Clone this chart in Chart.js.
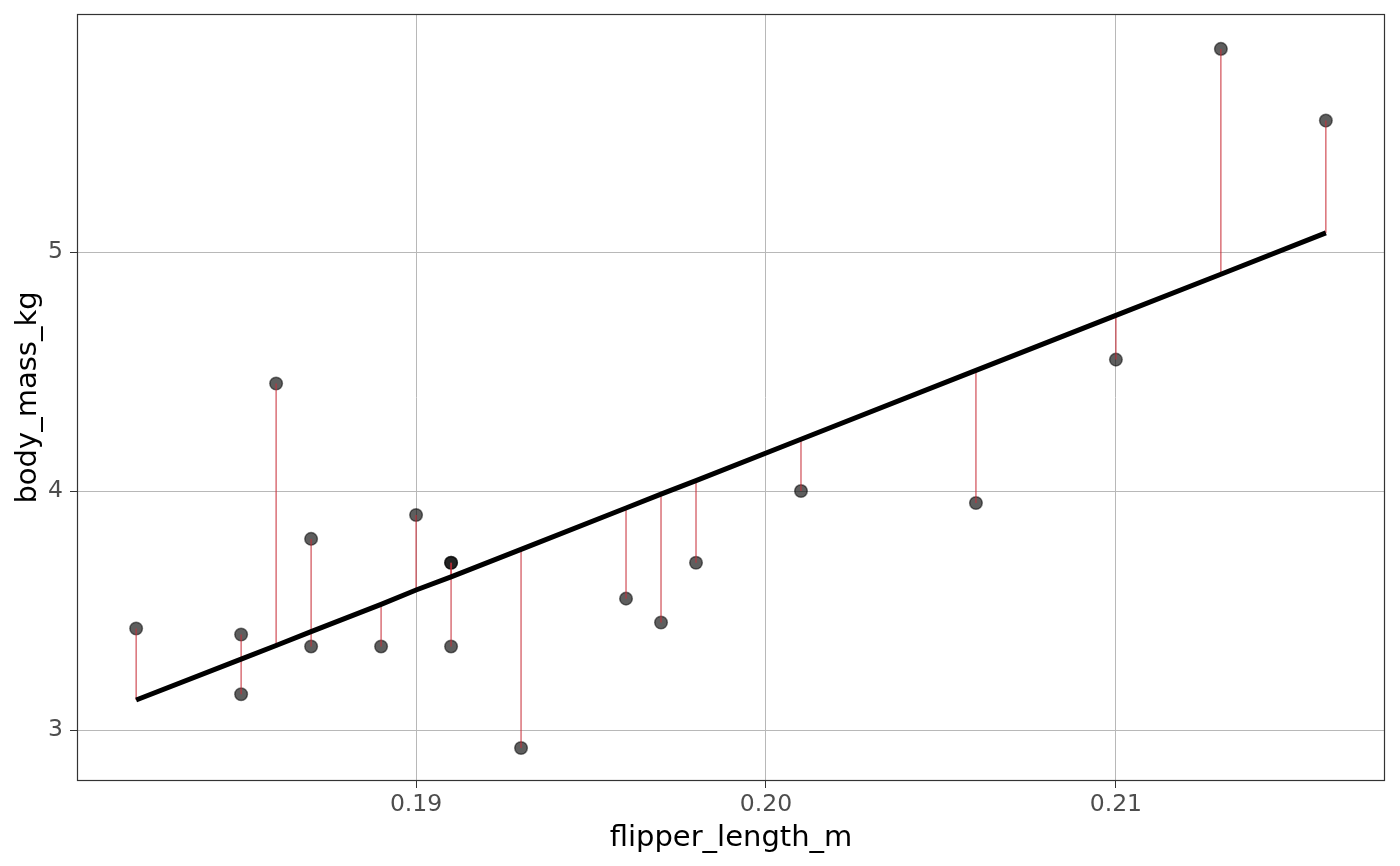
<!DOCTYPE html>
<html>
<head>
<meta charset="utf-8">
<script src="https://cdn.jsdelivr.net/npm/chart.js@4.4.1/dist/chart.umd.min.js"></script>
<style>
  html, body { margin: 0; padding: 0; background: #fff; }
  #wrap { width: 1400px; height: 866px; }
</style>
</head>
<body>
<div id="wrap"><canvas id="chart" width="1400" height="866"></canvas></div>
<script>
// values
var flipperLength = [0.182, 0.185, 0.185, 0.186, 0.187, 0.187, 0.189, 0.190, 0.191, 0.191,
                     0.191, 0.193, 0.196, 0.197, 0.198, 0.201, 0.206, 0.210, 0.213, 0.216];
var bodyMass      = [3.425, 3.40, 3.15, 4.45, 3.80, 3.35, 3.35, 3.90, 3.70, 3.70,
                     3.35, 2.925, 3.55, 3.45, 3.70, 4.00, 3.95, 4.55, 5.85, 5.55];
// fitted values (where each red segment meets the black line)
var fittedMass    = [3.126, 3.297, 3.297, 3.354, 3.412, 3.412, 3.526, 3.586, 3.641, 3.641,
                     3.641, 3.756, 3.929, 3.987, 4.044, 4.217, 4.505, 4.735, 4.907, 5.080];

var xTicks = [0.19, 0.20, 0.21];
var yTicks = [3, 4, 5];
var xRange = [0.18031, 0.21769];
var yRange = [2.787, 5.996];

var pointData = flipperLength.map(function(x, i) { return {x: x, y: bodyMass[i]}; });
var fitData = flipperLength.map(function(x, i) { return {x: x, y: fittedMass[i]}; });

var datasets = [];

// regression line, on top
datasets.push({
  data: fitData,
  showLine: true,
  borderColor: "#000000",
  borderWidth: 5,
  borderCapStyle: "butt",
  pointRadius: 0,
  order: 0
});

// residual segments
flipperLength.forEach(function(x, i) {
  datasets.push({
    data: [{x: x, y: bodyMass[i]}, {x: x, y: fittedMass[i]}],
    showLine: true,
    borderColor: "rgba(200,45,55,0.85)",
    borderWidth: 1.2,
    pointRadius: 0,
    order: 1
  });
});

// observations
datasets.push({
  data: pointData,
  pointRadius: 6.3,
  pointBackgroundColor: "rgba(0,0,0,0.63)",
  pointBorderColor: "rgba(0,0,0,0.5)",
  pointBorderWidth: 1.5,
  order: 2
});

var panelBorder = {
  id: "panelBorder",
  afterDatasetsDraw: function(chart) {
    var a = chart.chartArea;
    var ctx = chart.ctx;
    ctx.save();
    ctx.strokeStyle = "#333333";
    ctx.lineWidth = 1.2;
    ctx.strokeRect(a.left + 0.5, a.top + 0.5, a.right - a.left - 1, a.bottom - a.top - 1);
    ctx.restore();
  }
};

var tickFont = {family: "DejaVu Sans", size: 23.5};
var titleFont = {family: "DejaVu Sans", size: 29};

new Chart(document.getElementById("chart"), {
  type: "scatter",
  data: {datasets: datasets},
  plugins: [panelBorder],
  options: {
    responsive: false,
    devicePixelRatio: 1,
    animation: false,
    layout: {padding: {top: 14, right: 15, bottom: 0, left: 0}},
    plugins: {legend: {display: false}, tooltip: {enabled: false}},
    scales: {
      x: {
        type: "linear",
        min: xRange[0],
        max: xRange[1],
        afterBuildTicks: function(s) { s.ticks = xTicks.map(function(v) { return {value: v}; }); },
        afterFit: function(s) { s.height = 85; s.paddingLeft = 0; s.paddingRight = 0; },
        grid: {color: "#b8b8b8", lineWidth: 1, tickColor: "#333333", tickLength: 7, drawTicks: true},
        border: {display: false},
        ticks: {
          font: tickFont, color: "#4d4d4d", padding: 3, maxRotation: 0, autoSkip: false,
          callback: function(v) { return v.toFixed(2); }
        },
        title: {display: true, text: "flipper_length_m", color: "#000000", font: titleFont,
                padding: {top: 0, bottom: 10}}
      },
      y: {
        type: "linear",
        min: yRange[0],
        max: yRange[1],
        afterBuildTicks: function(s) { s.ticks = yTicks.map(function(v) { return {value: v}; }); },
        afterFit: function(s) { s.width = 77; s.paddingTop = 0; s.paddingBottom = 0; },
        grid: {color: "#b8b8b8", lineWidth: 1, tickColor: "#333333", tickLength: 7, drawTicks: true},
        border: {display: false},
        ticks: {
          font: tickFont, color: "#4d4d4d", padding: 7,
          callback: function(v) { return String(v); }
        },
        title: {display: true, text: "body_mass_kg", color: "#000000", font: titleFont,
                padding: {top: 11, bottom: 0}}
      }
    }
  }
});
</script>
</body>
</html>
